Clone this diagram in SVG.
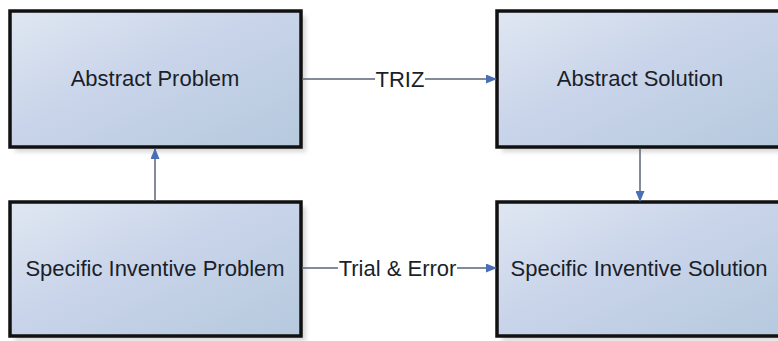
<svg xmlns="http://www.w3.org/2000/svg" width="778" height="341" viewBox="0 0 778 341">
<defs>
<linearGradient id="fill" x1="0" y1="0" x2="1" y2="1">
<stop offset="0" stop-color="#dfe7f1"/>
<stop offset="0.45" stop-color="#c9d4ea"/>
<stop offset="1" stop-color="#b5c9dd"/>
</linearGradient>
<marker id="arr" markerWidth="11" markerHeight="9" refX="10" refY="4.5" orient="auto" markerUnits="userSpaceOnUse">
<path d="M0,0 L11,4.5 L0,9 Z" fill="#4a6fb5"/>
</marker>
<filter id="sh" x="-5%" y="-5%" width="115%" height="120%">
<feGaussianBlur stdDeviation="2"/>
</filter>
</defs>
<style>
.box{fill:url(#fill);stroke:#111;stroke-width:3.5}
.shadow{fill:#d8d8d8;filter:url(#sh)}
.lbl{font-family:"Liberation Sans",Arial,sans-serif;font-size:22px;fill:#1a1f2a;text-anchor:middle}
.con{stroke:#5a6578;stroke-width:1.5;fill:none;marker-end:url(#arr)}
.el{font-family:"Liberation Sans",Arial,sans-serif;font-size:22px;fill:#1a1f2a;text-anchor:middle}
</style>
<rect width="778" height="341" fill="#ffffff"/>
<g id="abstract-problem">
<rect class="shadow" x="15" y="16" width="291" height="136"/>
<rect class="box" x="10" y="11" width="291" height="136"/>
<text class="lbl" x="155" y="86">Abstract Problem</text>
</g>
<g id="abstract-solution">
<rect class="shadow" x="502" y="16" width="290" height="136"/>
<rect class="box" x="497" y="11" width="290" height="136"/>
<text class="lbl" x="640" y="86">Abstract Solution</text>
</g>
<g id="specific-problem">
<rect class="shadow" x="15" y="207" width="291" height="134"/>
<rect class="box" x="10" y="202" width="291" height="134"/>
<text class="lbl" x="155" y="276">Specific Inventive Problem</text>
</g>
<g id="specific-solution">
<rect class="shadow" x="502" y="207" width="290" height="134"/>
<rect class="box" x="497" y="202" width="290" height="134"/>
<text class="lbl" x="639" y="276">Specific Inventive Solution</text>
</g>
<g id="connectors">
<line class="con" x1="302" y1="79" x2="496" y2="79"/>
<rect x="375" y="68" width="50" height="22" fill="#ffffff"/>
<text class="el" x="400" y="87">TRIZ</text>
<line class="con" x1="302" y1="268" x2="496" y2="268"/>
<rect x="338" y="257" width="119" height="22" fill="#ffffff"/>
<text class="el" x="397.5" y="276">Trial &amp; Error</text>
<line class="con" x1="155" y1="201" x2="155" y2="149"/>
<line class="con" x1="640" y1="149" x2="640" y2="201"/>
</g>
</svg>
